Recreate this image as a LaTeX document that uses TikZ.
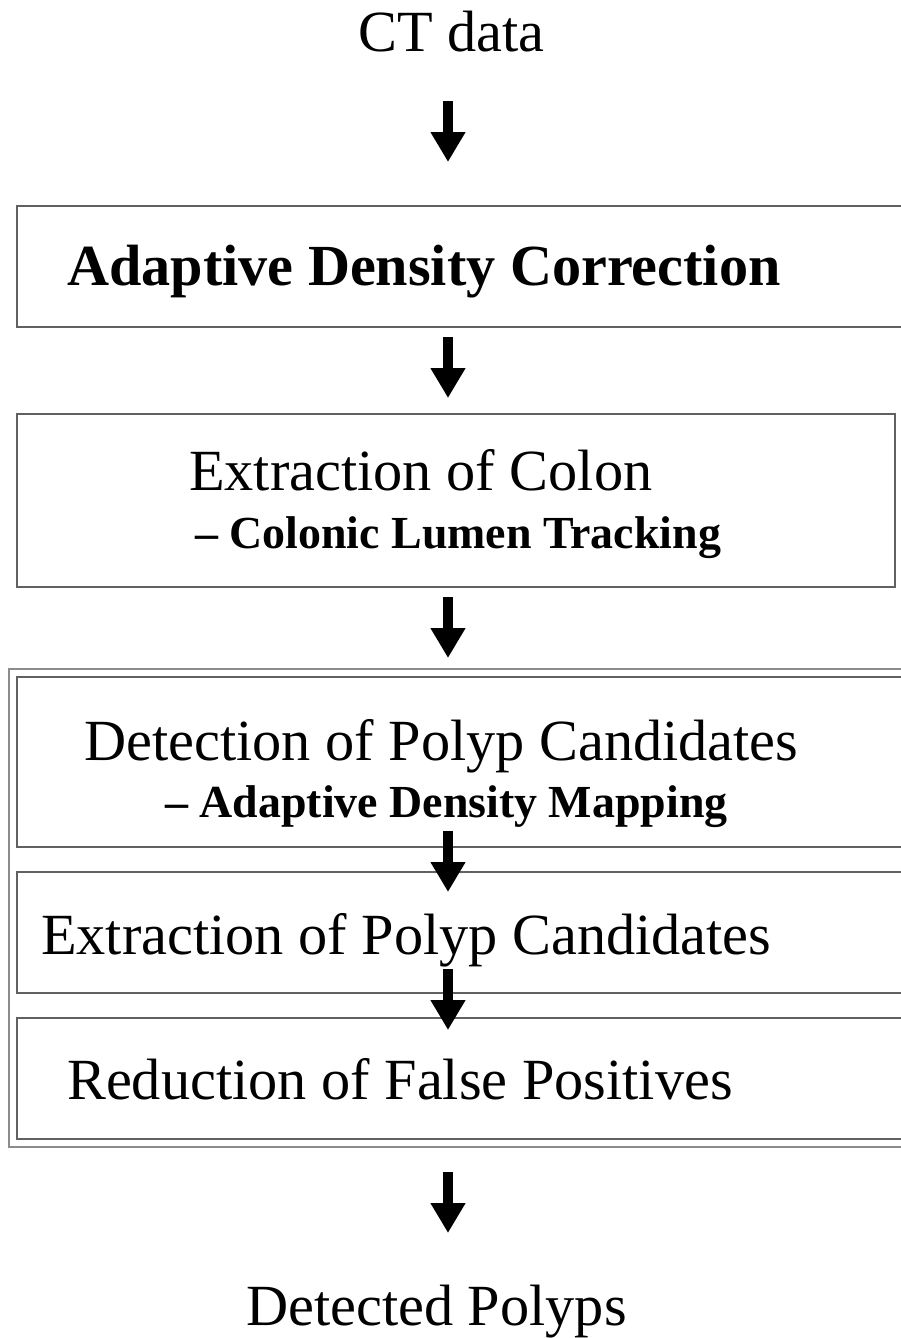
\documentclass[tikz,border=0pt]{standalone}
\usepackage{fontspec}
\setmainfont{Liberation Serif}
\usetikzlibrary{arrows.meta}
\tikzset{
  boxline/.style={draw=black!62, line width=2pt},
  outerline/.style={draw=black!45, line width=1.3pt},
  bigtxt/.style={anchor=base west, inner sep=0pt, font=\fontsize{58.3}{60}\selectfont},
  boldtxt/.style={anchor=base west, inner sep=0pt, font=\fontsize{58.2}{60}\selectfont\bfseries},
  subtxt/.style={anchor=base west, inner sep=0pt, font=\fontsize{45.9}{48}\selectfont\bfseries},
  bigarrow/.style={draw=black, line width=10pt, -{Triangle[width=33pt,length=30pt]}}
}
\begin{document}
\begin{tikzpicture}[x=1pt,y=-1pt]
\useasboundingbox (0,0) rectangle (900,1338);
% boxes
\draw[boxline] (930,206) -- (17,206) -- (17,327) -- (930,327);
\draw[boxline] (17,414) rectangle (895,587);
\draw[outerline] (930,669) -- (9,669) -- (9,1147) -- (930,1147);
\draw[boxline] (930,677) -- (17,677) -- (17,847) -- (930,847);
\draw[boxline] (930,872) -- (17,872) -- (17,993) -- (930,993);
\draw[boxline] (930,1018) -- (17,1018) -- (17,1139) -- (930,1139);
% texts
\node[bigtxt] (ct) at (358,52) {CT data};
\node[boldtxt] (adc) at (67,285) {Adaptive Density Correction};
\node[bigtxt] (eoc) at (189,490) {Extraction of Colon};
\node[subtxt] (clt) at (195,548) {– Colonic Lumen Tracking};
\node[bigtxt] (dpc) at (84,760) {Detection of Polyp Candidates};
\node[subtxt] (adm) at (165,817) {– Adaptive Density Mapping};
\node[bigtxt] (epc) at (41,954) {Extraction of Polyp Candidates};
\node[bigtxt] (rfp) at (67,1099) {Reduction of False Positives};
\node[bigtxt] (dp) at (246,1325) {Detected Polyps};
% arrows
\coordinate (a1s) at (448,101); \coordinate (a1e) at (448,162);
\coordinate (a2s) at (448,337); \coordinate (a2e) at (448,398);
\coordinate (a3s) at (448,597); \coordinate (a3e) at (448,658);
\coordinate (a4s) at (448,831); \coordinate (a4e) at (448,892);
\coordinate (a5s) at (448,969); \coordinate (a5e) at (448,1030);
\coordinate (a6s) at (448,1172); \coordinate (a6e) at (448,1233);
\draw[bigarrow] (a1s) -- (a1e);
\draw[bigarrow] (a2s) -- (a2e);
\draw[bigarrow] (a3s) -- (a3e);
\draw[bigarrow] (a4s) -- (a4e);
\draw[bigarrow] (a5s) -- (a5e);
\draw[bigarrow] (a6s) -- (a6e);
\end{tikzpicture}
\end{document}
